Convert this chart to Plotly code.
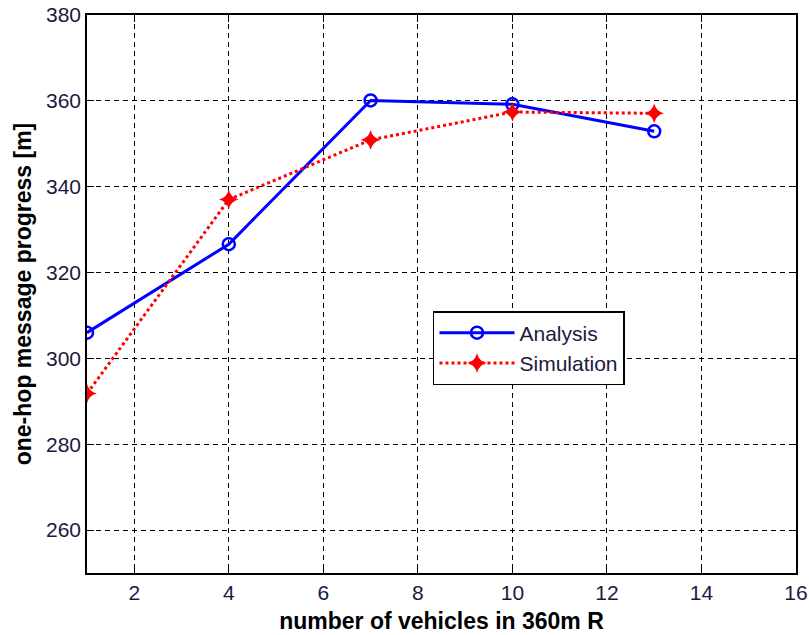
import plotly.graph_objects as go

x_vals = [1, 4, 7, 10, 13]
analysis = [306.0, 326.6, 360.1, 359.2, 352.9]
simulation = [291.8, 337.0, 350.9, 357.4, 357.1]
x_ticks = [2, 4, 6, 8, 10, 12, 14, 16]
y_ticks = [260, 280, 300, 320, 340, 360, 380]

fig = go.Figure()
fig.add_trace(go.Scatter(
    x=x_vals, y=analysis, name="Analysis", mode="lines+markers",
    line=dict(color="#0000ff", width=3),
    marker=dict(symbol="circle-open", size=12, color="#0000ff", line=dict(width=2.5)),
))
fig.add_trace(go.Scatter(
    x=x_vals, y=simulation, name="Simulation", mode="lines+markers",
    line=dict(color="#ff0000", width=3, dash="dot"),
    marker=dict(symbol="star-diamond", size=14, color="#ff0000"),
))

axis_common = dict(
    showline=True, linecolor="black", linewidth=1.5, mirror="all",
    ticks="inside", ticklen=7, tickcolor="black",
    showgrid=True, gridcolor="black", griddash="5px,4px", gridwidth=1.2,
    zeroline=False, automargin=False,
    tickfont=dict(family="Liberation Sans, Arial", size=21, color="#1a1a40"),
)

fig.update_layout(
    width=809, height=635,
    margin=dict(l=87, r=13, t=15, b=62),
    paper_bgcolor="white", plot_bgcolor="white",
    xaxis=dict(range=[1, 16], tickvals=x_ticks,
               title=dict(text="<b>number of vehicles in 360m R</b>", standoff=10,
                          font=dict(family="Liberation Sans, Arial", size=23, color="black")),
               **axis_common),
    yaxis=dict(range=[250, 380], tickvals=y_ticks,
               title=dict(text="<b>one-hop message progress [m]</b>", standoff=8,
                          font=dict(family="Liberation Sans, Arial", size=23, color="black")),
               **axis_common),
    legend=dict(x=0.488, y=0.4695, xanchor="left", yanchor="top",
                bgcolor="white", bordercolor="black", borderwidth=1.5,
                font=dict(family="Liberation Sans, Arial", size=21, color="#1a1a40"),
                itemwidth=75, tracegroupgap=0),
    showlegend=True,
)

fig.write_html("out.html")
